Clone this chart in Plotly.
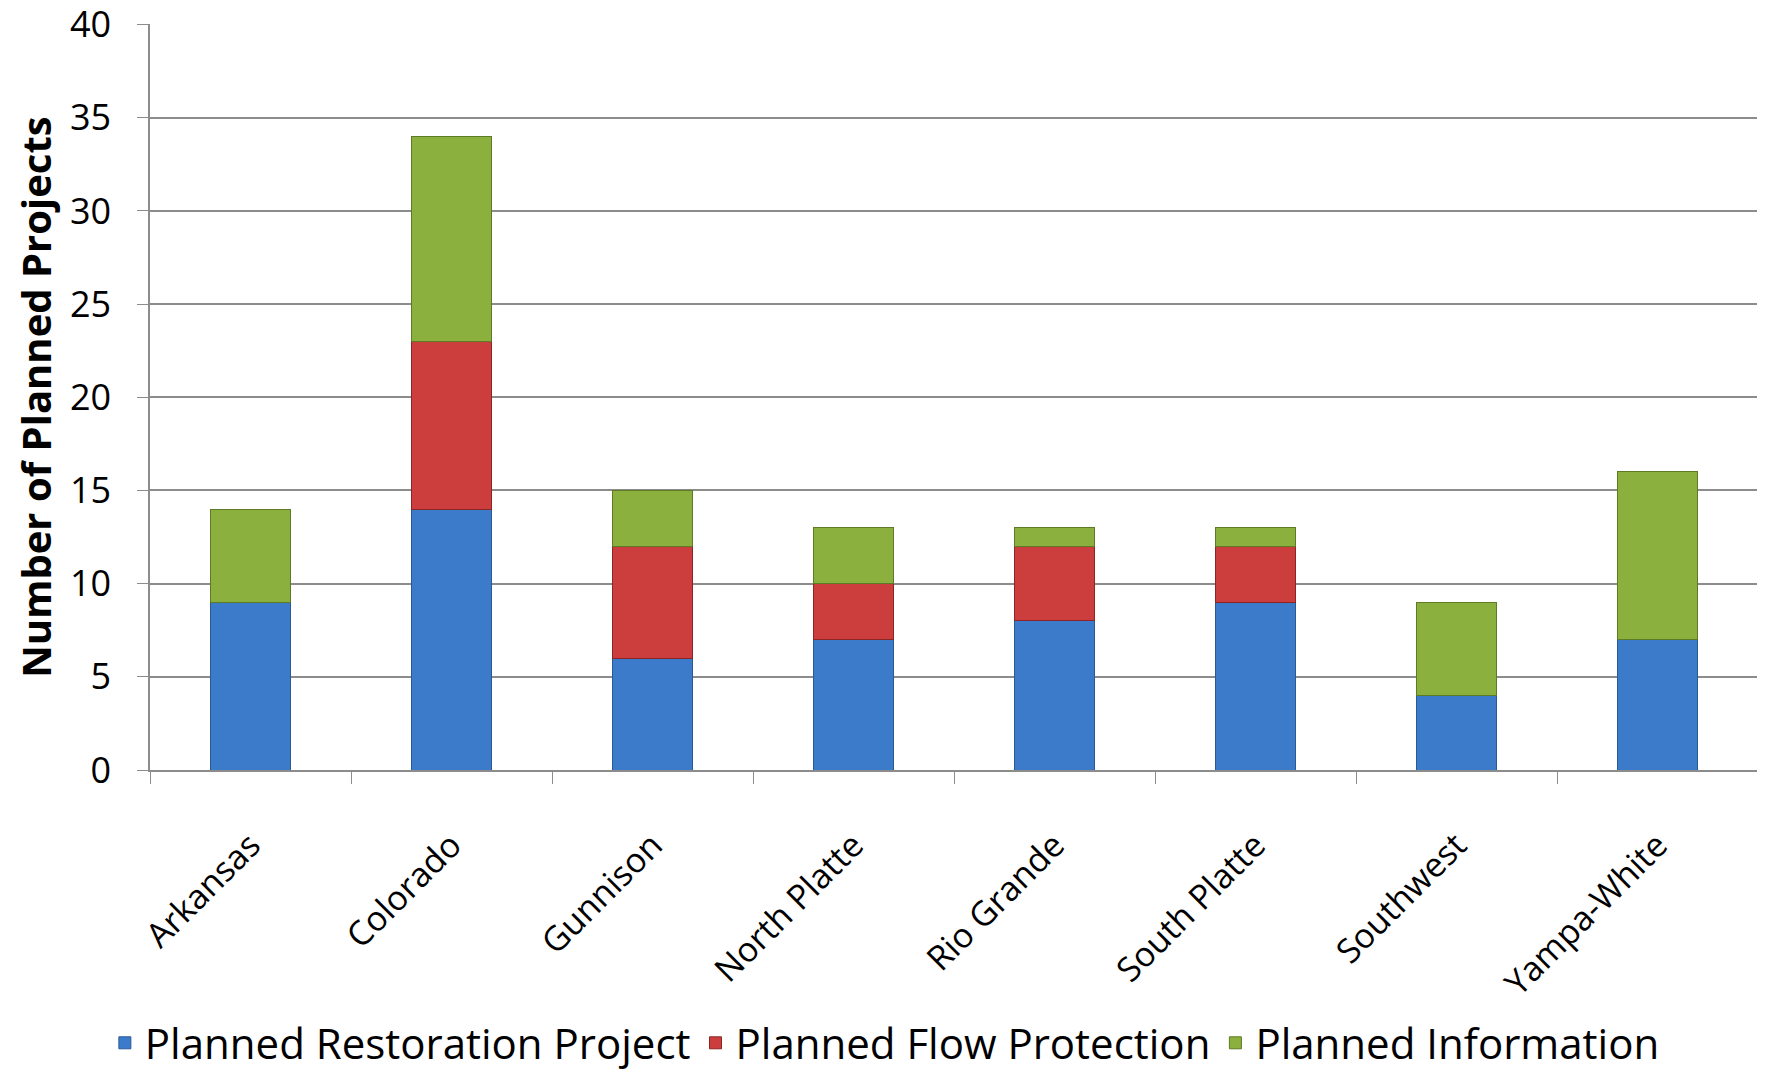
"""Planned projects by basin, stacked bars."""

import plotly.graph_objects as go

# data
basins = ["Arkansas", "Colorado", "Gunnison", "North Platte",
          "Rio Grande", "South Platte", "Southwest", "Yampa-White"]
restoration = [9, 14, 6, 7, 8, 9, 4, 7]
flow_protection = [0, 9, 6, 3, 4, 3, 0, 0]
information = [5, 11, 3, 3, 1, 1, 5, 9]
y_ticks = [0, 5, 10, 15, 20, 25, 30, 35, 40]

series = [
    ("Planned Restoration Project", restoration, "#3C7BC9", "#2A5A96"),
    ("Planned Flow Protection", flow_protection, "#CC3D3D", "#8E2525"),
    ("Planned Information", information, "#8BB03D", "#5E7A26"),
]

FONT = "Open Sans"

fig = go.Figure()
for name, vals, col, edge in series:
    fig.add_trace(go.Bar(
        x=basins, y=vals, name=name,
        marker=dict(color=col, line=dict(color=edge, width=1)),
    ))

# the page body adds an 8px margin, so the figure is a bit smaller
fig.update_layout(
    barmode="stack",
    bargap=0.6,
    width=1757, height=1069,
    margin=dict(l=142, r=7, t=16, b=307),
    plot_bgcolor="white", paper_bgcolor="white",
    font=dict(family=FONT, size=36, color="black"),
    showlegend=True,
    legend=dict(orientation="h", x=0.457, xanchor="center",
                yref="container", y=0.0, yanchor="bottom",
                font=dict(size=42), traceorder="normal"),
)
fig.update_yaxes(
    range=[0, 40.03], tickvals=y_ticks, automargin=False,
    showgrid=True, gridcolor="#8C8C8C", gridwidth=1.5,
    showline=True, linecolor="#8C8C8C", linewidth=1.5,
    ticks="outside", ticklen=11, tickcolor="#8C8C8C",
    ticklabelstandoff=19, ticklabeloverflow="allow",
    tickfont=dict(size=36),
    title=dict(text="<b>Number of Planned Projects</b>", font=dict(size=40),
               standoff=8),
    zeroline=False,
)
fig.update_xaxes(
    automargin=False,
    showline=True, linecolor="#8C8C8C", linewidth=1.5,
    ticks="outside", ticklen=12, tickcolor="#8C8C8C", tickson="boundaries",
    tickangle=-45, tickfont=dict(size=34), ticklabelstandoff=40,
)

fig.write_html("out.html")
